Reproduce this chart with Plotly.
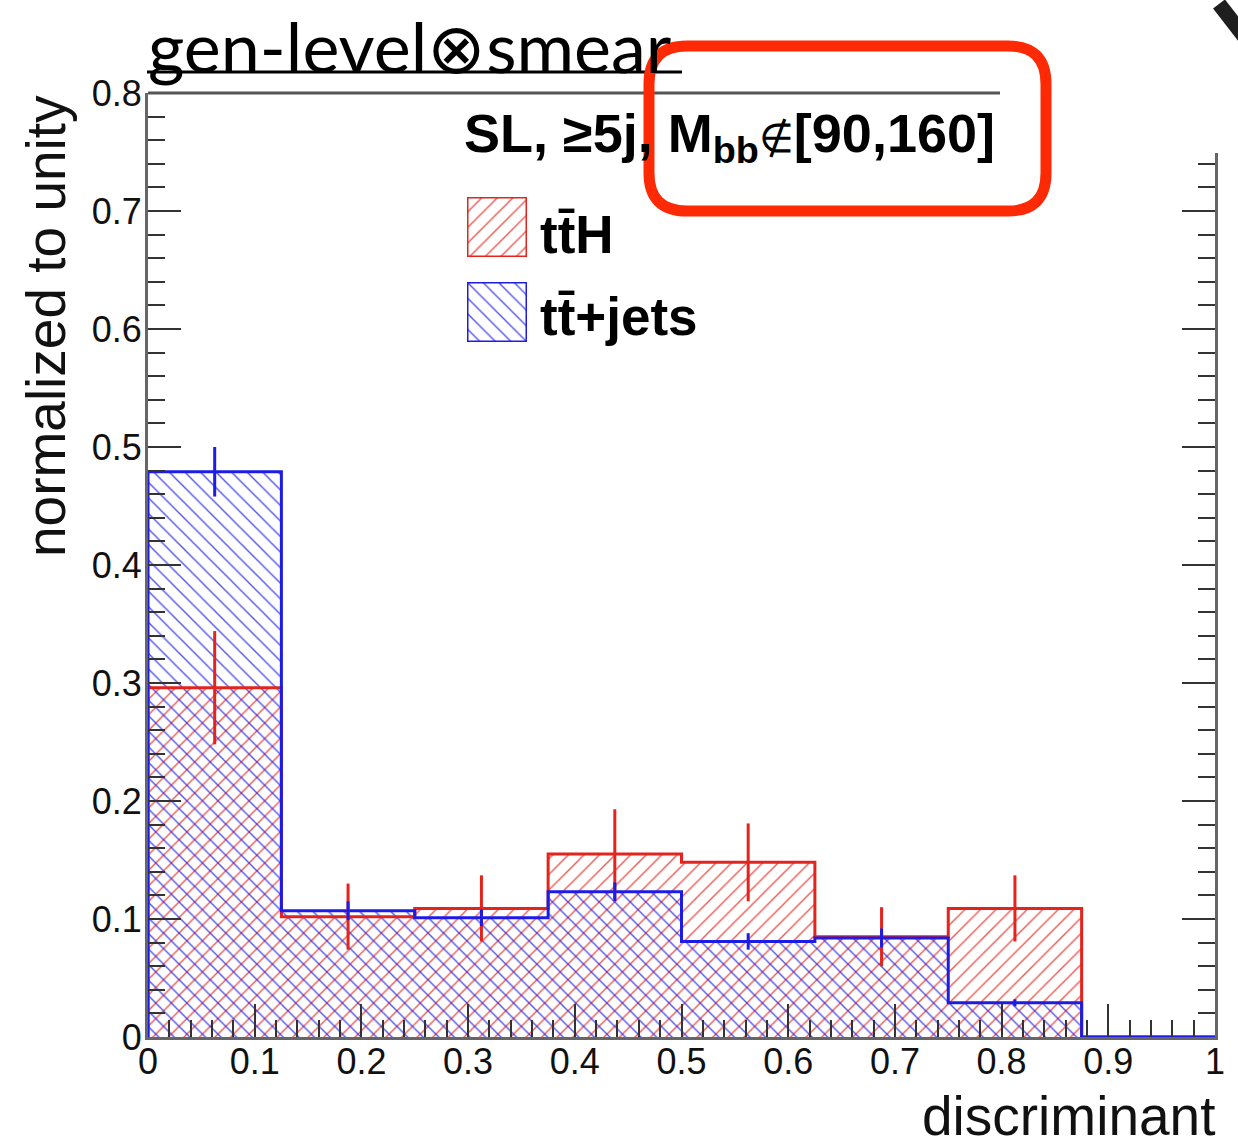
import plotly.graph_objects as go

# ---- histogram contents (8 equal bins on the discriminant) ----
bin_edges = [0.0, 0.125, 0.25, 0.375, 0.5, 0.625, 0.75, 0.875, 1.0]
tth = [0.296, 0.102, 0.109, 0.155, 0.148, 0.085, 0.109, 0.0]
tth_err = [0.048, 0.028, 0.028, 0.038, 0.033, 0.025, 0.028, 0.0]
ttjets = [0.479, 0.107, 0.101, 0.123, 0.081, 0.084, 0.029, 0.0]
ttjets_err = [0.021, 0.008, 0.007, 0.008, 0.007, 0.008, 0.003, 0.0]

x_tickvals = [0, 0.1, 0.2, 0.3, 0.4, 0.5, 0.6, 0.7, 0.8, 0.9, 1.0]
x_ticktext = ["0", "0.1", "0.2", "0.3", "0.4", "0.5", "0.6", "0.7", "0.8", "0.9", "1"]
y_tickvals = [0, 0.1, 0.2, 0.3, 0.4, 0.5, 0.6, 0.7, 0.8]
y_ticktext = ["0", "0.1", "0.2", "0.3", "0.4", "0.5", "0.6", "0.7", "0.8"]

series_names = ["tt\u0304H", "tt\u0304+jets"]

RED = "#e4241c"
BLUE = "#1c1ce6"
BOX_RED = "#fe2a06"
FONT = "Liberation Sans, Arial, sans-serif"

W, H = 1238, 1146
ML, MR, MT, MB = 148, 23, 93, 109
PW, PH = W - ML - MR, H - MT - MB


def px(x):
    """page x pixel -> paper fraction"""
    return (x - ML) / PW


def py(y):
    """page y pixel -> paper fraction"""
    return (H - MB - y) / PH


centers = [(a + b) / 2 for a, b in zip(bin_edges[:-1], bin_edges[1:])]
widths = [b - a for a, b in zip(bin_edges[:-1], bin_edges[1:])]


def step_xy(vals):
    xs = [bin_edges[0]] + bin_edges[:-1] + [bin_edges[-1], bin_edges[-1]]
    ys = [0] + list(vals) + [vals[-1], 0]
    return xs, ys


fig = go.Figure()

hatch = [("/", tth, tth_err, RED), ("\\", ttjets, ttjets_err, BLUE)]

for shape, vals, errs, col in hatch:
    fig.add_trace(go.Bar(
        x=centers, y=vals, width=widths,
        marker=dict(color="rgba(0,0,0,0)", line=dict(width=0),
                    pattern=dict(shape=shape, fgcolor=col, bgcolor="rgba(255,255,255,0)",
                                 size=11, solidity=0.13, fgopacity=0.75)),
        hoverinfo="skip",
    ))

for shape, vals, errs, col in hatch:
    sx, sy = step_xy(vals)
    fig.add_trace(go.Scatter(x=sx, y=sy, mode="lines", line_shape="hv",
                             line=dict(color=col, width=3), hoverinfo="skip"))

for shape, vals, errs, col in hatch:
    fig.add_trace(go.Scatter(
        x=centers, y=vals, mode="markers",
        marker=dict(size=2, color="rgba(0,0,0,0)"),
        error_y=dict(type="data", array=errs, visible=True, color=col, thickness=3, width=0),
        hoverinfo="skip",
    ))

# legend swatches, each in its own small hidden axis pair
legend_boxes = [(("x2", "y2"), "/", RED, (197, 257)), (("x3", "y3"), "\\", BLUE, (282, 342))]
for (xa, ya), shape, col, _ in legend_boxes:
    fig.add_trace(go.Bar(
        x=[0.5], y=[1], width=[1], xaxis=xa, yaxis=ya,
        marker=dict(color="rgba(0,0,0,0)", line=dict(color=col, width=3),
                    pattern=dict(shape=shape, fgcolor=col, bgcolor="rgba(255,255,255,0)",
                                 size=11, solidity=0.13, fgopacity=0.75)),
        hoverinfo="skip",
    ))

axis_common = dict(
    ticks="inside", ticklen=33, tickwidth=2, tickcolor="#333",
    showline=True, linecolor="#666", linewidth=3,
    showgrid=False, zeroline=False,
    tickfont=dict(family=FONT, size=36, color="#111"),
    automargin=False, fixedrange=True,
)

fig.update_layout(
    width=W, height=H,
    margin=dict(l=ML, r=MR, t=MT, b=MB),
    paper_bgcolor="white", plot_bgcolor="white",
    barmode="overlay", showlegend=False,
    xaxis=dict(range=[0, 1], tickmode="array", tickvals=x_tickvals, ticktext=x_ticktext,
               ticklabelstandoff=-9,
               minor=dict(tickmode="linear", tick0=0, dtick=0.02, ticks="inside",
                          ticklen=17, tickwidth=2, tickcolor="#333"),
               **axis_common),
    yaxis=dict(range=[0, 0.8], tickmode="array", tickvals=y_tickvals, ticktext=y_ticktext,
               mirror="ticks", ticklabelstandoff=-4,
               minor=dict(tickmode="linear", tick0=0, dtick=0.02, ticks="inside",
                          ticklen=17, tickwidth=2, tickcolor="#333"),
               **axis_common),
)

for i, ((xa, ya), _, _, (top, bot)) in enumerate(legend_boxes):
    xname = "xaxis" + xa[1:]
    yname = "yaxis" + ya[1:]
    fig.update_layout(**{
        xname: dict(domain=[px(467), px(527)], range=[0, 1], visible=False,
                    anchor=ya, fixedrange=True),
        yname: dict(domain=[py(bot), py(top)], range=[0, 1], visible=False,
                    anchor=xa, fixedrange=True),
    })

ann = []
ann.append(dict(text="gen-level\u2297smear", x=px(146), y=py(46), xref="paper", yref="paper",
                xanchor="left", yanchor="middle", showarrow=False,
                font=dict(family="Lato, Open Sans, sans-serif", size=70, color="black")))
ann.append(dict(text="<b>SL, \u22655j, M<sub>bb</sub></b>"
                     "<span style='font-size:40px'>\u2209</span><b>[90,160]</b>",
                x=px(462), y=py(137),
                xref="paper", yref="paper", xanchor="left", yanchor="middle", showarrow=False,
                font=dict(family=FONT, size=54, color="black")))
for name, yc in zip(series_names, [234, 316]):
    ann.append(dict(text="<b>" + name + "</b>", x=px(538), y=py(yc), xref="paper", yref="paper",
                    xanchor="left", yanchor="middle", showarrow=False,
                    font=dict(family=FONT, size=53, color="black")))
ann.append(dict(text="discriminant", x=px(1217), y=py(1116), xref="paper", yref="paper",
                xanchor="right", yanchor="middle", showarrow=False,
                font=dict(family=FONT, size=55, color="#111")))
ann.append(dict(text="normalized to unity", x=px(46), y=py(326), xref="paper", yref="paper",
                xanchor="center", yanchor="middle", textangle=-90, showarrow=False,
                font=dict(family=FONT, size=55, color="#111")))
fig.update_layout(annotations=ann)


def rounded_rect(x0, y0, x1, y1, r):
    pts = [
        ("M", [(x0 + r, y0)]), ("L", [(x1 - r, y0)]), ("Q", [(x1, y0), (x1, y0 + r)]),
        ("L", [(x1, y1 - r)]), ("Q", [(x1, y1), (x1 - r, y1)]), ("L", [(x0 + r, y1)]),
        ("Q", [(x0, y1), (x0, y1 - r)]), ("L", [(x0, y0 + r)]), ("Q", [(x0, y0), (x0 + r, y0)]),
    ]
    out = []
    for cmd, coords in pts:
        out.append(cmd + " " + " ".join(f"{px(a):.5f},{py(b):.5f}" for a, b in coords))
    return " ".join(out) + " Z"


shapes = [
    # top frame edge
    dict(type="line", xref="paper", yref="paper", x0=px(148), x1=px(1000), y0=1, y1=1,
         line=dict(color="#555", width=3), layer="above"),
    # blank out the upper right frame corner
    dict(type="rect", xref="paper", yref="paper", x0=px(1100), x1=px(1240), y0=py(153), y1=py(75),
         fillcolor="white", line=dict(width=0), layer="above"),
    # title underline
    dict(type="line", xref="paper", yref="paper", x0=px(147), x1=px(682), y0=py(72), y1=py(72),
         line=dict(color="black", width=3), layer="above"),
    # highlight box
    dict(type="path", xref="paper", yref="paper", path=rounded_rect(649, 46, 1046, 211, 38),
         line=dict(color=BOX_RED, width=11), layer="above"),
    # dark stroke in the corner
    dict(type="line", xref="paper", yref="paper", x0=px(1219), y0=py(4), x1=px(1250), y1=py(44),
         line=dict(color="#1e1e1e", width=15), layer="above"),
]
fig.update_layout(shapes=shapes)

fig.write_html("out.html")
